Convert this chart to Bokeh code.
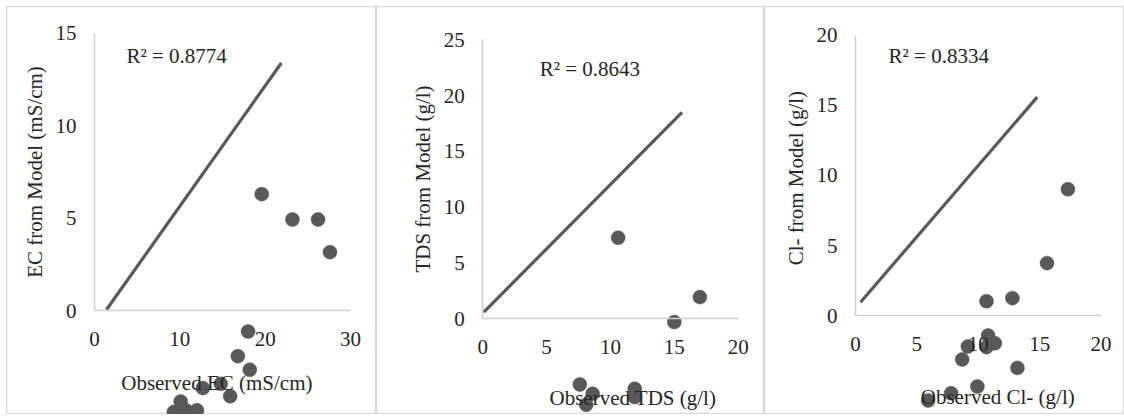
from bokeh.plotting import figure
from bokeh.layouts import row, column
from bokeh.models import Label, SingleIntervalTicker, Spacer
from bokeh.embed import file_html
from bokeh.resources import INLINE

FONT = "Liberation Serif"
TEXT_COLOR = "#262626"
MARK_COLOR = "#595959"
AXIS_COLOR = "#d0d0d0"
BORDER_COLOR = "#d9d9d9"

# ---- Panel 1: EC ----
ec_observed = [19.6, 23.2, 26.2, 27.6, 18.0, 16.8, 18.2, 12.7, 14.8, 15.9, 10.1, 9.3, 10.7, 12.0]
ec_model = [6.3, 4.93, 4.93, 3.16, -1.14, -2.47, -3.21, -4.2, -3.97, -4.64, -4.93, -5.5, -5.4, -5.4]
ec_trend_x = [1.4, 21.9]
ec_trend_y = [0.04, 13.4]
ec_r2 = "R² = 0.8774"

# ---- Panel 2: TDS ----
tds_observed = [10.6, 17.0, 15.0, 7.6, 8.6, 8.1, 11.9, 11.9]
tds_model = [7.26, 1.94, -0.3, -5.89, -6.72, -7.7, -6.27, -7.02]
tds_trend_x = [0.08, 15.6]
tds_trend_y = [0.59, 18.5]
tds_r2 = "R² = 0.8643"

# ---- Panel 3: Cl- ----
cl_observed = [17.3, 15.6, 10.67, 12.78, 10.8, 11.35, 9.15, 10.67, 8.69, 13.19, 9.93, 7.79, 5.92]
cl_model = [9.02, 3.74, 1.02, 1.24, -1.43, -1.98, -2.21, -2.26, -3.14, -3.74, -5.07, -5.55, -6.07]
cl_trend_x = [0.41, 14.8]
cl_trend_y = [0.95, 15.6]
cl_r2 = "R² = 0.8334"

PANEL_H = 408


def make_panel(width, x_range, y_range, x_interval, y_interval, x_max, y_max,
               obs, mod, tx, ty, r2_text, r2_xy, y_title, x_title, x_title_xy):
    p = figure(width=width, height=PANEL_H, x_range=x_range, y_range=y_range,
               output_backend="svg", toolbar_location=None,
               min_border=0, min_border_left=0, min_border_right=0,
               min_border_top=0, min_border_bottom=0)
    p.grid.visible = False
    p.outline_line_color = BORDER_COLOR
    p.outline_line_width = 1.5
    p.background_fill_color = "white"
    p.border_fill_color = "white"

    xa = p.xaxis[0]
    ya = p.yaxis[0]
    xa.fixed_location = 0
    ya.fixed_location = 0
    xa.bounds = (0, x_max)
    ya.bounds = (0, y_max)
    xa.ticker = SingleIntervalTicker(interval=x_interval)
    ya.ticker = SingleIntervalTicker(interval=y_interval)
    for ax in (xa, ya):
        ax.axis_line_color = AXIS_COLOR
        ax.axis_line_width = 1.5
        ax.major_tick_in = 0
        ax.major_tick_out = 0
        ax.minor_tick_in = 0
        ax.minor_tick_out = 0
        ax.major_label_text_font = FONT
        ax.major_label_text_font_size = "21px"
        ax.major_label_text_color = TEXT_COLOR
    xa.major_label_standoff = 21
    ya.major_label_standoff = 18
    ya.axis_label = y_title
    ya.axis_label_text_font = FONT
    ya.axis_label_text_font_size = "21px"
    ya.axis_label_text_font_style = "normal"
    ya.axis_label_text_color = TEXT_COLOR
    ya.axis_label_standoff = 6

    p.line(tx, ty, line_width=3.2, line_color=MARK_COLOR)
    p.scatter(obs, mod, size=14, fill_color=MARK_COLOR, line_color=MARK_COLOR, line_width=0.5)

    p.add_layout(Label(x=r2_xy[0], y=r2_xy[1], text=r2_text, text_font=FONT,
                       text_font_size="21px", text_color=TEXT_COLOR,
                       text_align="left", text_baseline="middle"))
    p.add_layout(Label(x=x_title_xy[0], y=x_title_xy[1], text=x_title, text_font=FONT,
                       text_font_size="21px", text_color=TEXT_COLOR,
                       text_align="center", text_baseline="middle"))
    return p


p1 = make_panel(370, (-10.31, 33.05), (-5.63, 16.46), 10, 5, 30, 15,
                ec_observed, ec_model, ec_trend_x, ec_trend_y, ec_r2, (3.75, 13.8),
                "EC from Model (mS/cm)", "Observed  EC (mS/cm)", (14.65, -3.95))
p2 = make_panel(388, (-8.32, 22.06), (-8.58, 27.98), 5, 5, 20, 25,
                tds_observed, tds_model, tds_trend_x, tds_trend_y, tds_r2, (4.46, 22.4),
                "TDS from Model (g/l)", "Observed  TDS (g/l)", (11.96, -7.08))
p3 = make_panel(360, (-7.41, 21.91), (-7.07, 22.07), 5, 5, 20, 20,
                cl_observed, cl_model, cl_trend_x, cl_trend_y, cl_r2, (2.69, 18.57),
                "Cl-  from Model (g/l)", "Observed  Cl- (g/l)", (11.8, -5.84))

layout = column(Spacer(height=6, width=10),
                row(Spacer(width=6, height=10), p1, p2, p3))
open("out.html", "w").write(file_html(layout, INLINE))
